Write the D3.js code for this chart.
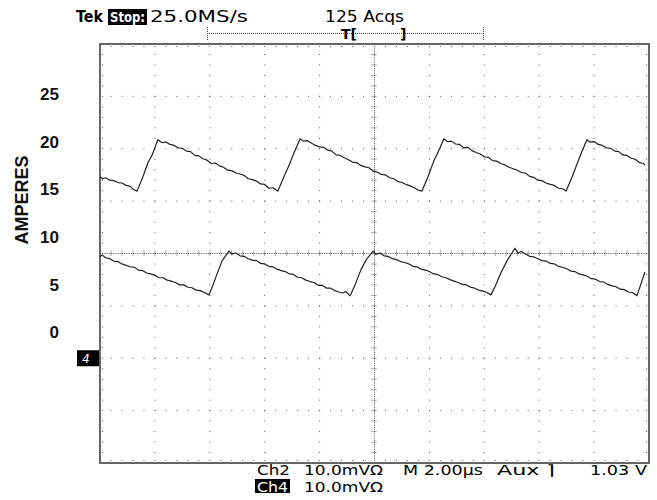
<!DOCTYPE html>
<html><head><meta charset="utf-8">
<script src="https://cdn.jsdelivr.net/npm/d3@7"></script>
<style>html,body{margin:0;padding:0;background:#fff}svg{display:block}</style>
</head><body><svg id="c" width="657" height="500"></svg>
<script>
// ---- data (time in microseconds, current in amperes) ----
const ampTicks = [0, 5, 10, 15, 20, 25];
const axisTitle = "AMPERES";
const upperTrace = [
 [0,16.3],[0.1,16.1],[0.2,16.2],[0.35,15.95],[0.5,15.9],[0.65,15.7],[0.8,15.65],[0.95,15.4],[1.1,15.3],[1.2,15.0],[1.35,14.8],
 [1.55,16.2],[1.75,17.8],[1.9,18.6],[2.11,20.2],
 [2.25,19.9],[2.4,19.95],[2.55,19.7],[2.7,19.6],[2.85,19.35],[3.0,19.3],[3.15,19.0],[3.3,18.95],[3.45,18.55],[3.6,18.5],[3.75,18.2],[3.9,18.05],[4.05,17.7],[4.2,17.75],[4.35,17.45],[4.5,17.3],[4.65,17.0],[4.8,16.95],[4.95,16.7],[5.1,16.6],[5.25,16.45],[5.4,16.1],[5.55,16.0],[5.7,15.85],[5.85,15.55],[6.0,15.5],[6.15,15.1],[6.3,15.15],[6.48,14.8],
 [6.7,16.3],[6.9,17.6],[7.05,18.7],[7.29,20.3],
 [7.4,20.05],[7.55,20.1],[7.7,19.85],[7.85,19.6],[8.0,19.45],[8.15,19.4],[8.3,19.1],[8.45,19.0],[8.6,18.6],[8.75,18.55],[8.9,18.3],[9.05,18.1],[9.2,17.85],[9.35,17.8],[9.5,17.5],[9.65,17.35],[9.8,17.25],[9.95,16.9],[10.1,16.8],[10.25,16.55],[10.4,16.5],[10.55,16.2],[10.7,16.1],[10.85,15.8],[11.0,15.7],[11.15,15.5],[11.3,15.35],[11.45,15.15],[11.6,14.9],[11.73,14.8],
 [11.95,16.3],[12.15,17.9],[12.3,18.8],[12.53,20.3],
 [12.65,20.0],[12.8,20.05],[12.95,19.75],[13.1,19.7],[13.25,19.35],[13.4,19.4],[13.55,19.05],[13.7,18.85],[13.85,18.7],[14.0,18.4],[14.15,18.35],[14.3,18.0],[14.45,17.95],[14.6,17.7],[14.75,17.55],[14.9,17.3],[15.05,17.15],[15.2,17.0],[15.35,16.75],[15.5,16.7],[15.65,16.35],[15.8,16.25],[15.95,15.95],[16.1,15.9],[16.25,15.65],[16.4,15.5],[16.55,15.4],[16.7,15.1],[16.85,15.05],[16.98,14.8],
 [17.2,16.3],[17.4,17.8],[17.55,18.9],[17.74,20.2],
 [17.85,19.95],[18.0,20.0],[18.15,19.7],[18.3,19.6],[18.45,19.35],[18.6,19.3],[18.75,19.0],[18.9,18.95],[19.05,18.6],[19.2,18.55],[19.35,18.25],[19.5,18.15],[19.65,17.8],[19.8,17.7],[19.85,17.5]
];
const lowerTrace = [
 [0,7.9],[0.08,8.1],[0.2,7.8],[0.35,7.7],[0.5,7.45],[0.65,7.4],[0.8,7.15],[0.95,7.0],[1.1,6.85],[1.25,6.8],[1.4,6.5],[1.55,6.45],[1.7,6.2],[1.85,6.1],[2.0,5.95],[2.15,5.7],[2.3,5.7],[2.45,5.45],[2.6,5.35],[2.75,5.2],[2.9,4.95],[3.05,4.95],[3.2,4.7],[3.35,4.65],[3.5,4.4],[3.65,4.35],[3.8,4.15],[3.97,3.9],
 [4.1,4.8],[4.25,6.0],[4.45,7.5],[4.7,8.5],
 [4.82,8.2],[4.95,8.3],[5.1,8.0],[5.25,7.95],[5.4,7.7],[5.55,7.55],[5.7,7.5],[5.85,7.2],[6.0,7.15],[6.15,6.9],[6.3,6.85],[6.45,6.6],[6.6,6.45],[6.75,6.35],[6.9,6.1],[7.05,6.05],[7.2,5.75],[7.35,5.7],[7.5,5.45],[7.65,5.3],[7.8,5.2],[7.95,4.9],[8.1,4.9],[8.25,4.6],[8.4,4.6],[8.55,4.35],[8.7,4.2],[8.85,4.1],[8.95,4.25],[9.11,3.8],
 [9.3,5.0],[9.5,6.5],[9.7,7.6],[9.95,8.5],
 [10.05,8.15],[10.2,8.3],[10.35,8.0],[10.5,7.95],[10.65,7.7],[10.8,7.6],[10.95,7.4],[11.1,7.3],[11.25,7.15],[11.4,6.9],[11.55,6.85],[11.7,6.6],[11.85,6.5],[12.0,6.35],[12.15,6.1],[12.3,6.05],[12.45,5.8],[12.6,5.7],[12.75,5.5],[12.9,5.35],[13.05,5.2],[13.2,5.0],[13.35,4.95],[13.5,4.7],[13.65,4.6],[13.8,4.4],[13.95,4.3],[14.1,4.15],[14.24,3.9],
 [14.4,4.8],[14.6,6.2],[14.85,7.6],[15.12,8.8],
 [15.22,8.3],[15.35,8.45],[15.5,8.2],[15.65,7.95],[15.8,7.9],[15.95,7.7],[16.1,7.5],[16.25,7.45],[16.4,7.2],[16.55,7.15],[16.7,6.9],[16.85,6.8],[17.0,6.65],[17.15,6.4],[17.3,6.35],[17.45,6.1],[17.6,6.0],[17.75,5.85],[17.9,5.6],[18.05,5.55],[18.2,5.3],[18.35,5.25],[18.5,5.0],[18.65,4.85],[18.8,4.75],[18.95,4.5],[19.1,4.45],[19.25,4.2],[19.4,4.15],[19.56,3.8],
 [19.7,5.0],[19.85,6.3]
];
const headerLeft = ["Tek", "Stop:", "25.0MS/s"];
const headerAcqs = "125 Acqs";
const footerRow1 = ["Ch2", "10.0mVΩ", "M 2.00µs", "Aux ⌉", "1.03 V"];
const footerRow2 = ["Ch4", "10.0mVΩ"];
const channelMarker = "4";

// ---- layout ----
const svg = d3.select("#c");
const L = 100, R = 649, T = 44, B = 463;
const xDiv = d3.scaleLinear([0, 10], [L, R]);
const yDiv = d3.scaleLinear([0, 8], [B, T]);
const xT = d3.scaleLinear([0, 20], [L, R]);
const yA = d3.scaleLinear([0, 25], [332, 94]);
const gridCol = "#555";

const grid = svg.append("g");
const minor = d3.range(0, 50.001, 1).map(i => i * 0.2);
const minorY = d3.range(0, 40.001, 1).map(i => i * 0.2);
for (let i = 1; i < 10; i++) {
  if (i === 5) continue;
  grid.selectAll(null).data(minorY.slice(1, -1)).enter().append("rect")
    .attr("x", xDiv(i) - 0.5).attr("y", d => yDiv(d) - 0.5).attr("width", 1).attr("height", 1).attr("fill", gridCol);
}
for (let j = 1; j < 8; j++) {
  if (j === 4) continue;
  grid.selectAll(null).data(minor.slice(1, -1)).enter().append("rect")
    .attr("x", d => xDiv(d) - 0.5).attr("y", yDiv(j) - 0.5).attr("width", 1).attr("height", 1).attr("fill", gridCol);
}
grid.append("line").attr("x1", L).attr("x2", R).attr("y1", yDiv(4)).attr("y2", yDiv(4))
  .attr("stroke", gridCol).attr("stroke-dasharray", "1,1.2");
grid.append("line").attr("x1", xDiv(5)).attr("x2", xDiv(5)).attr("y1", T).attr("y2", B)
  .attr("stroke", gridCol).attr("stroke-dasharray", "1,1.2");
grid.selectAll(null).data(minor.slice(1, -1)).enter().append("line")
  .attr("x1", d => xDiv(d)).attr("x2", d => xDiv(d)).attr("y1", yDiv(4) - 3).attr("y2", yDiv(4) + 3)
  .attr("stroke", gridCol).attr("stroke-dasharray", "1,1");
grid.selectAll(null).data(minorY.slice(1, -1)).enter().append("line")
  .attr("y1", d => yDiv(d)).attr("y2", d => yDiv(d)).attr("x1", xDiv(5) - 3).attr("x2", xDiv(5) + 3)
  .attr("stroke", gridCol).attr("stroke-dasharray", "1,1");
grid.selectAll(null).data(minor.slice(1, -1)).enter().append("line")
  .attr("x1", d => xDiv(d)).attr("x2", d => xDiv(d)).attr("y1", T).attr("y2", T + 4).attr("stroke", gridCol).attr("stroke-dasharray", "1,1");
grid.selectAll(null).data(minor.slice(1, -1)).enter().append("line")
  .attr("x1", d => xDiv(d)).attr("x2", d => xDiv(d)).attr("y1", B).attr("y2", B - 4).attr("stroke", gridCol).attr("stroke-dasharray", "1,1");
grid.selectAll(null).data(minorY.slice(1, -1)).enter().append("line")
  .attr("y1", d => yDiv(d)).attr("y2", d => yDiv(d)).attr("x1", L).attr("x2", L + 4).attr("stroke", gridCol).attr("stroke-dasharray", "1,1");
grid.selectAll(null).data(minorY.slice(1, -1)).enter().append("line")
  .attr("y1", d => yDiv(d)).attr("y2", d => yDiv(d)).attr("x1", R).attr("x2", R - 4).attr("stroke", gridCol).attr("stroke-dasharray", "1,1");
svg.append("rect").attr("x", L).attr("y", T).attr("width", R - L).attr("height", B - T)
  .attr("fill", "none").attr("stroke", "#666").attr("stroke-width", 2);

// traces
const line = d3.line().x(d => xT(d[0])).y(d => yA(d[1]));
[upperTrace, lowerTrace].forEach(tr => {
  svg.append("path").datum(tr).attr("d", line).attr("fill", "none")
    .attr("stroke", "#222").attr("stroke-width", 1.2).attr("stroke-linejoin", "round");
});

// amp labels
svg.append("g").selectAll("text").data(ampTicks).enter().append("text")
  .attr("x", 59).attr("y", d => yA(d)).attr("dy", "0.36em").attr("text-anchor", "end")
  .attr("font-family", "Liberation Sans, Arial, sans-serif").attr("font-weight", "bold").attr("font-size", 17)
  .attr("fill", "#111").text(d => d);
svg.append("text").attr("transform", "translate(28,200) rotate(-90)").attr("text-anchor", "middle")
  .attr("font-family", "Liberation Sans, Arial, sans-serif").attr("font-weight", "bold").attr("font-size", 18)
  .attr("fill", "#111").text(axisTitle);

// channel marker
const my = yDiv(2);
svg.append("rect").attr("x", 77).attr("y", my - 8).attr("width", 22).attr("height", 16).attr("fill", "#000");
svg.append("text").attr("x", 82).attr("y", my + 5).attr("font-family", "DejaVu Sans, sans-serif")
  .attr("font-size", 12).attr("font-style", "italic").attr("fill", "#fff").text(channelMarker);

// header
const sf = "DejaVu Sans, sans-serif";
function txt(s, x, y, w, opts) {
  const t = svg.append("text").attr("x", x).attr("y", y).attr("font-family", sf).attr("font-size", opts && opts.size || 14)
    .attr("fill", opts && opts.fill || "#000").text(s);
  if (opts && opts.bold) t.attr("font-weight", "bold");
  if (w) t.attr("textLength", w).attr("lengthAdjust", "spacingAndGlyphs");
  return t;
}
txt(headerLeft[0], 76, 22, 27, {bold: true, size: 15});
svg.append("rect").attr("x", 108).attr("y", 9).attr("width", 39).attr("height", 16).attr("fill", "#000");
txt(headerLeft[1], 110, 22, 35, {bold: true, size: 14, fill: "#fff"});
txt(headerLeft[2], 150, 22, 98, {size: 15});
txt(headerAcqs, 325, 22, 79, {size: 15});
svg.append("line").attr("x1", 207).attr("x2", 483).attr("y1", 33.5).attr("y2", 33.5).attr("stroke", "#444").attr("stroke-dasharray", "1,1");
[207, 483].forEach(x => svg.append("line").attr("x1", x + 0.5).attr("x2", x + 0.5).attr("y1", 27).attr("y2", 40).attr("stroke", "#444").attr("stroke-dasharray", "1,1"));
txt("T[", 341, 39, null, {bold: true, size: 14});
txt("]", 400, 39, null, {bold: true, size: 14});

// footer
const fx1 = [257, 304, 403, 497, 590];
const fw1 = [33, 79, 80, 58, 57];
footerRow1.forEach((t, i) => txt(t, fx1[i], 475, fw1[i], {size: 14}));
svg.append("rect").attr("x", 255).attr("y", 479).attr("width", 35).attr("height", 14).attr("fill", "#000");
txt(footerRow2[0], 257, 492, 31, {size: 14, fill: "#fff"});
txt(footerRow2[1], 304, 492, 79, {size: 14});
</script></body></html>
